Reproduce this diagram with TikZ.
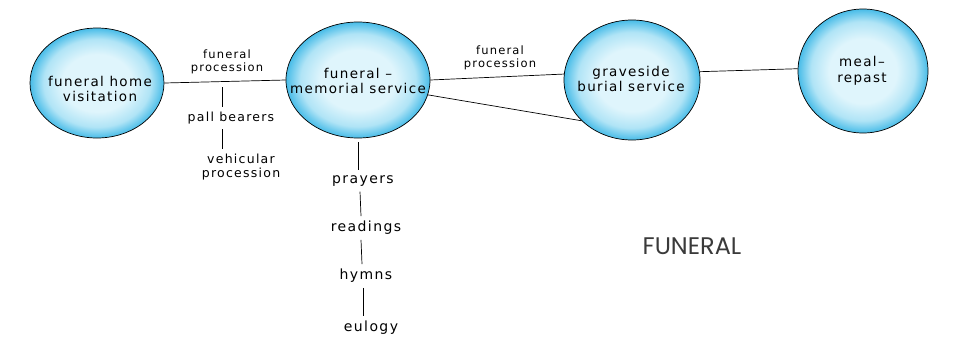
\documentclass[tikz,border=0pt]{standalone}
\usepackage{fontspec}
\usetikzlibrary{shapes.geometric}
\newfontfamily\handfont[LetterSpace=10]{DejaVu Sans}
\newfontfamily\titlefont{Poppins}
\definecolor{bIn}{HTML}{DFF5FC}
\definecolor{bMid}{HTML}{B0E4F6}
\definecolor{bOut}{HTML}{48BCE8}
\definecolor{titlegray}{HTML}{3A3A3A}
\pgfdeclareradialshading{blob}{\pgfpoint{0bp}{0bp}}{color(0bp)=(bIn); color(13bp)=(bIn); color(20bp)=(bMid); color(25bp)=(bOut); color(50bp)=(bOut)}
\tikzset{
  blob/.style={ellipse, draw=black, line width=0.7pt, shading=blob, inner sep=0pt},
  intext/.style={font=\handfont\fontsize{13.5}{15.5}\selectfont, align=center, inner sep=0pt},
  edgetext/.style={font=\handfont\fontsize{11.5}{13}\selectfont, align=center, inner sep=0pt},
  subtext/.style={font=\handfont\fontsize{12.5}{14.5}\selectfont, align=center, inner sep=5pt},
  chaintext/.style={font=\handfont\fontsize{14}{16}\selectfont, align=center, inner sep=5pt},
  link/.style={draw=black, line width=0.7pt}
}
\begin{document}
\begin{tikzpicture}[x=1pt,y=-1pt]
\useasboundingbox[fill=white] (0,0) rectangle (961,349);
% blobs
\node[blob, minimum width=134pt, minimum height=110pt] (c1) at (97,83) {};
\node[blob, minimum width=144pt, minimum height=116pt] (c2) at (358,80) {};
\node[blob, minimum width=136pt, minimum height=120pt] (c3) at (632,80) {};
\node[blob, minimum width=130pt, minimum height=124pt] (c4) at (863,71) {};
% blob texts
\node[intext] (t1) at (100,89) {funeral home\\visitation};
\node[intext] (t2) at (358,81) {funeral \textendash\\memorial service};
\node[intext] (t3) at (631,79) {graveside\\burial service};
\node[intext] (t4) at (862,71) {meal\textendash\\repast};
% main connectors
\draw[link] (c1.east) -- (c2.west);
\draw[link] (c2.east) -- (c3.175);
\draw[link] (c2.-12) -- (c3.219);
\draw[link] (c3.7) -- (c4.178);
% edge labels
\node[edgetext] (fp1) at (227,62) {funeral\\procession};
\node[edgetext] (fp2) at (500,58) {funeral\\procession};
% sub chain under first connector
\coordinate (j1) at (222,87);
\node[subtext] (pb) at (231,118) {pall bearers};
\node[subtext] (vp) at (241,167) {vehicular\\procession};
\draw[link] (j1) -- (pb.north -| j1);
\draw[link] (pb.south -| j1) -- (vp.north -| j1);
% chain under memorial service
\node[chaintext] (pr) at (363,181) {prayers};
\node[chaintext] (rd) at (366,228) {readings};
\node[chaintext] (hy) at (366,276) {hymns};
\node[chaintext] (eu) at (371,328) {eulogy};
\draw[link, shorten <=4pt] (c2.south) -- (pr.north -| c2.south);
\draw[link] (pr.south -| 360,0) -- (rd.north -| 361,0);
\draw[link] (rd.south -| 361,0) -- (hy.north -| 362,0);
\draw[link] (hy.south -| 363,0) -- (eu.north -| 363,0);
% title
\node[font=\titlefont\fontsize{24}{28}\selectfont, text=titlegray, inner sep=0pt] (title) at (692,246) {FUNERAL};
\end{tikzpicture}
\end{document}
